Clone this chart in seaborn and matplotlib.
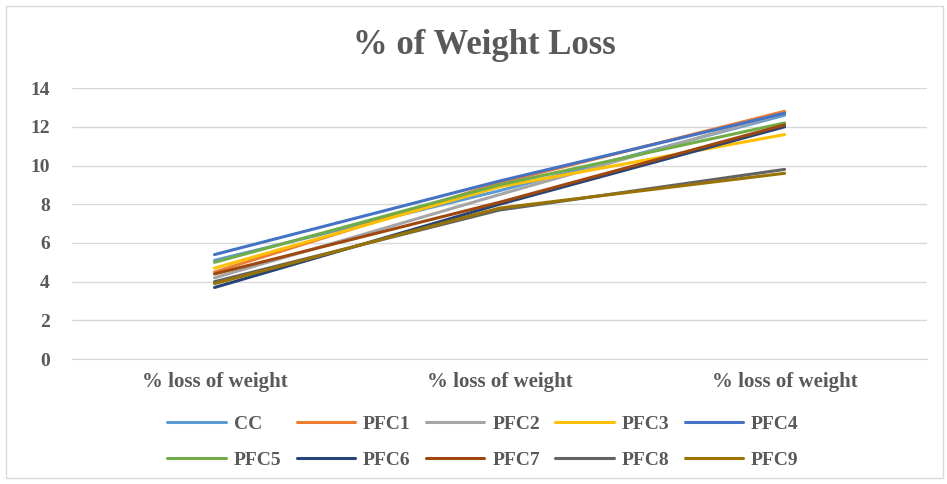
import numpy as np
import matplotlib
matplotlib.use('Agg')
import matplotlib.pyplot as plt
import pandas as pd
import seaborn as sns

# data
categories = ['% loss of weight', '% loss of weight', '% loss of weight']
series = ['CC', 'PFC1', 'PFC2', 'PFC3', 'PFC4',
          'PFC5', 'PFC6', 'PFC7', 'PFC8', 'PFC9']
cc = [5.1, 8.7, 12.6]
pfc1 = [4.5, 9.1, 12.8]
pfc2 = [4.2, 8.5, 12.7]
pfc3 = [4.7, 8.9, 11.6]
pfc4 = [5.4, 9.2, 12.7]
pfc5 = [5.0, 9.0, 12.2]
pfc6 = [3.7, 8.0, 12.0]
pfc7 = [4.4, 8.1, 12.1]
pfc8 = [4.0, 7.7, 9.8]
pfc9 = [3.9, 7.8, 9.6]
values = [cc, pfc1, pfc2, pfc3, pfc4, pfc5, pfc6, pfc7, pfc8, pfc9]

colors = ['#5B9BD5', '#ED7D31', '#A5A5A5', '#FFC000', '#4472C4',
          '#70AD47', '#264478', '#9E480E', '#636363', '#997300']

rows = []
for name, vals in zip(series, values):
    for i, v in enumerate(vals):
        rows.append({'pos': i, 'value': v, 'series': name})
df = pd.DataFrame(rows)

sns.set_style('white')
plt.rcParams['font.family'] = ['Liberation Serif', 'DejaVu Serif']
plt.rcParams['font.weight'] = 'bold'

fig = plt.figure(figsize=(9.47, 4.84), dpi=100)
ax = fig.add_axes([0.076, 0.258, 0.903, 0.56])

sns.lineplot(data=df, x='pos', y='value', hue='series', hue_order=series,
             palette=colors, linewidth=2.2, ax=ax, legend=True)

ax.set_xlim(-0.5, 2.5)
ax.set_ylim(0, 14)
ax.set_yticks(range(0, 15, 2))
ax.set_xticks(range(len(categories)))
ax.set_xticklabels(categories, fontsize=15, fontweight='bold', color='#595959')
ax.tick_params(axis='y', labelsize=14, labelcolor='#595959', length=0, pad=16)
ax.tick_params(axis='x', length=0, pad=9)
for lab in ax.get_yticklabels():
    lab.set_fontweight('bold')
ax.set_xlabel('')
ax.set_ylabel('')
ax.yaxis.grid(True, color='#D9D9D9', linewidth=1)
for s in ['top', 'right', 'left']:
    ax.spines[s].set_visible(False)
ax.spines['bottom'].set_color('#D9D9D9')

handles, labels = ax.get_legend_handles_labels()
ax.get_legend().remove()
# legend fills column by column, so reorder to read row by row
order = [0, 5, 1, 6, 2, 7, 3, 8, 4, 9]
fig.legend([handles[i] for i in order], [labels[i] for i in order],
           loc='center', bbox_to_anchor=(0.51, 0.086), ncol=5,
           frameon=False, handlelength=3.0, columnspacing=0.8, handletextpad=0.4,
           labelspacing=0.95, prop={'size': 14, 'weight': 'bold'},
           labelcolor='#595959')

fig.text(0.512, 0.905, '% of Weight Loss', ha='center', va='center',
         fontsize=25, fontweight='bold', color='#595959')

# outer chart border
fig.patches.append(plt.Rectangle((0.006, 0.012), 0.99, 0.975, transform=fig.transFigure,
                                 fill=False, edgecolor='#D9D9D9', linewidth=1))

fig.savefig('out.png', dpi=100)
